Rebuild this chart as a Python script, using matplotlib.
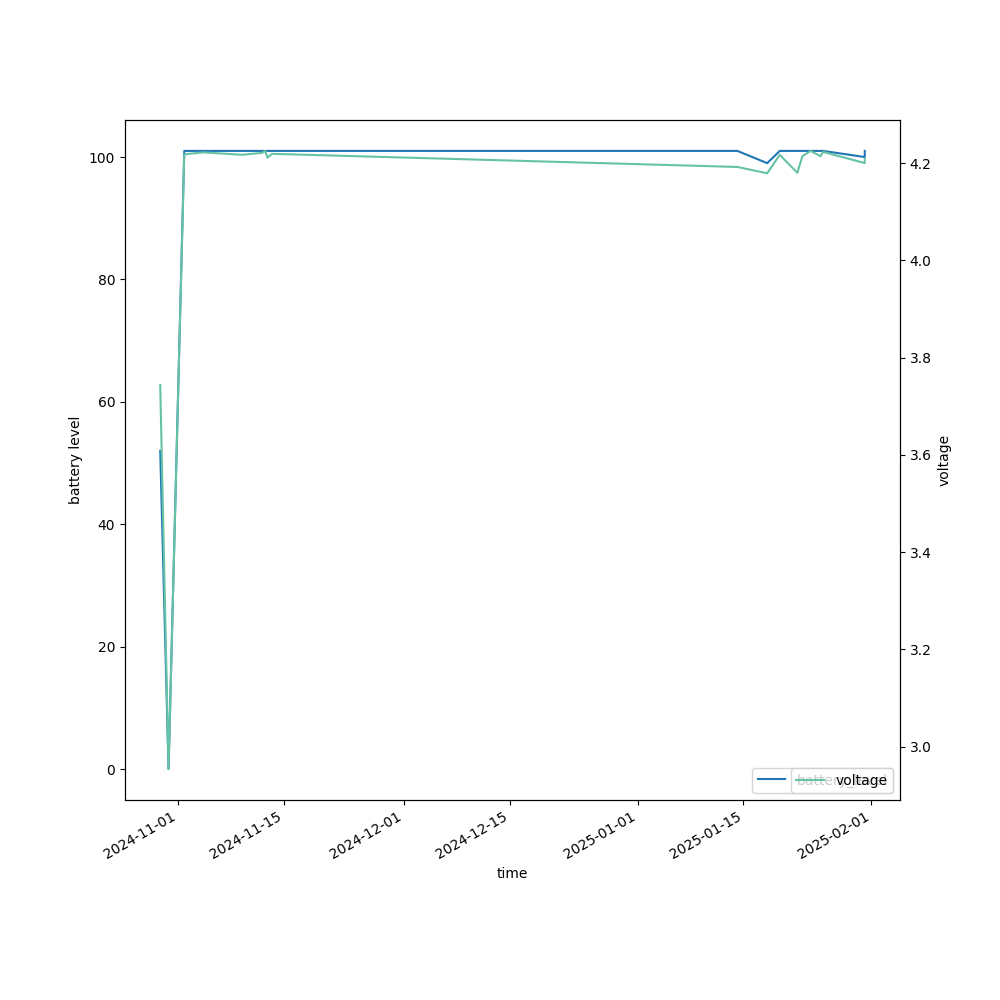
import numpy as np
import pandas as pd
import matplotlib
matplotlib.use("Agg")
from matplotlib import pyplot as plt
import matplotlib.dates as mdates


TIMES = [
    "2024-10-29 15:30", "2024-10-30 18:00", "2024-11-01 20:00", "2024-11-04 08:00",
    "2024-11-09 12:00", "2024-11-12 03:30", "2024-11-12 14:00", "2024-11-12 21:00",
    "2024-11-13 11:30", "2025-01-14 05:00", "2025-01-18 04:00", "2025-01-19 20:00",
    "2025-01-22 04:00", "2025-01-22 20:00", "2025-01-23 22:00", "2025-01-25 06:00",
    "2025-01-25 14:00", "2025-01-31 02:30", "2025-01-31 02:40",
]
BATTERY = [52, 0, 101, 101, 101, 101, 101, 101, 101, 101, 99, 101,
           101, 101, 101, 101, 101, 100, 101]
VOLTAGE = [3.744, 2.954, 4.218, 4.222, 4.217, 4.221, 4.225, 4.211, 4.219,
           4.192, 4.179, 4.217, 4.180, 4.214, 4.225, 4.214, 4.223, 4.200, 4.208]

t = pd.to_datetime(TIMES)

fig, ax1 = plt.subplots(figsize=(10, 10), dpi=100)
ax1.plot(t, BATTERY, color="#1f77b4", label="battery_level")
ax1.set_ylabel("battery level")
ax1.set_xlabel("time")
ax1.legend(loc="lower right")

ax2 = ax1.twinx()
ax2.plot(t, VOLTAGE, color="#66c2a5", label="voltage")
ax2.set_ylabel("voltage")
ax2.legend(loc="lower right")

ax1.xaxis.set_major_locator(mdates.DayLocator(bymonthday=[1, 15]))
ax1.xaxis.set_major_formatter(mdates.DateFormatter("%Y-%m-%d"))
fig.autofmt_xdate()

plt.savefig("out.png")
